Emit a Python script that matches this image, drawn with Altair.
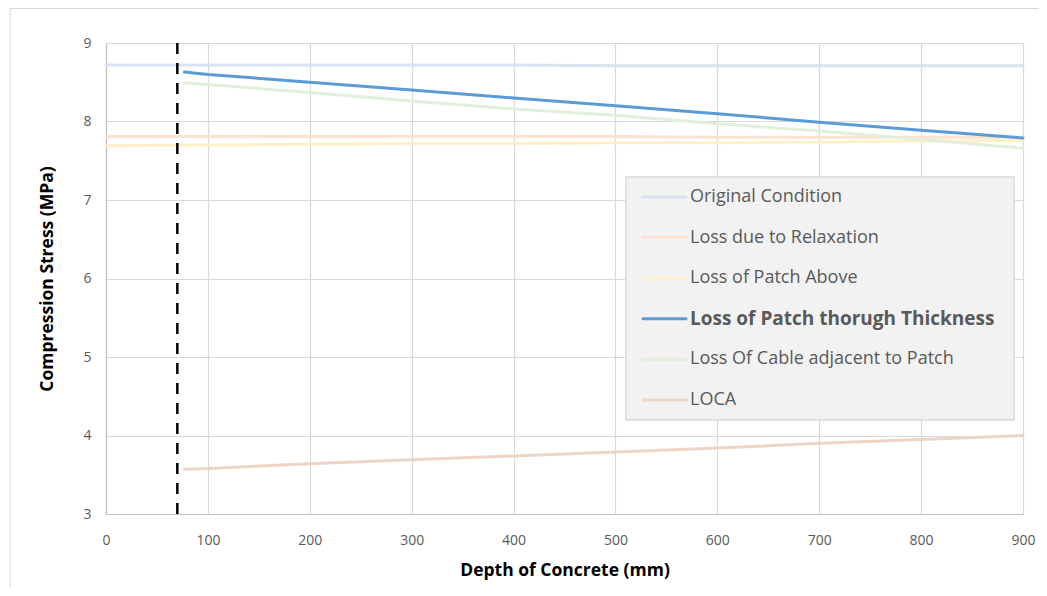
import altair as alt
import pandas as pd

# ---- data ----
series_names = [
    "Original Condition",
    "Loss due to Relaxation",
    "Loss of Patch Above",
    "Loss of Patch thorugh Thickness",
    "Loss Of Cable adjacent to Patch",
    "LOCA",
]
series_colors = ["#d9e2f3", "#fbe2d3", "#fff0c8", "#5b9bd5", "#e2efda", "#ecd5c6"]
series_widths = [3, 3, 3, 3.5, 3, 3]

depth_full = [0, 100, 200, 300, 400, 500, 600, 700, 800, 900]
depth_part = [77, 100, 200, 300, 400, 500, 600, 700, 800, 900]

original = [8.72, 8.72, 8.72, 8.72, 8.72, 8.71, 8.71, 8.71, 8.71, 8.71]
relaxation = [7.81, 7.81, 7.81, 7.81, 7.81, 7.81, 7.80, 7.80, 7.80, 7.80]
patch_above = [7.69, 7.70, 7.71, 7.72, 7.72, 7.73, 7.73, 7.74, 7.75, 7.76]
patch_thickness = [8.63, 8.60, 8.50, 8.40, 8.30, 8.20, 8.10, 7.99, 7.89, 7.79]
cable_adjacent = [8.49, 8.47, 8.37, 8.26, 8.16, 8.08, 7.97, 7.88, 7.77, 7.66]
loca = [3.57, 3.58, 3.64, 3.69, 3.74, 3.79, 3.84, 3.90, 3.95, 4.00]

marker_depth = [70]

x_ticks = [0, 100, 200, 300, 400, 500, 600, 700, 800, 900]
y_ticks = [3, 4, 5, 6, 7, 8, 9]

# ---- build long table ----
rows = []
for name, xs, ys in [
    (series_names[0], depth_full, original),
    (series_names[1], depth_full, relaxation),
    (series_names[2], depth_full, patch_above),
    (series_names[3], depth_part, patch_thickness),
    (series_names[4], depth_part, cable_adjacent),
    (series_names[5], depth_part, loca),
]:
    for x, y in zip(xs, ys):
        rows.append({"series": name, "depth": x, "stress": y, "order": series_names.index(name)})
df = pd.DataFrame(rows)
legend_df = pd.DataFrame({"series": series_names, "idx": list(range(len(series_names)))})

FONT = "Open Sans"
W, H = 917, 471

color_scale = alt.Scale(domain=series_names, range=series_colors)
width_scale = alt.Scale(domain=series_names, range=series_widths)

border = alt.Chart(alt.Data(values=[{}])).mark_rect(
    fillOpacity=0, stroke="#d9d9d9", strokeWidth=1
).encode(x=alt.value(-96), x2=alt.value(1100), y=alt.value(-34.5), y2=alt.value(700))

lines = alt.Chart(df).mark_line(strokeCap="round", strokeJoin="round").encode(
    x=alt.X("depth:Q", scale=alt.Scale(domain=[0, 900], nice=False),
            axis=alt.Axis(values=x_ticks, title="Depth of Concrete (mm)",
                          titleX=W / 2, titleY=56, titleBaseline="middle")),
    y=alt.Y("stress:Q", scale=alt.Scale(domain=[3, 9], nice=False, zero=False),
            axis=alt.Axis(values=y_ticks, title="Compression Stress (MPa)",
                          titleX=-59, titleY=H / 2, titleAngle=-90,
                          titleAlign="center", titleBaseline="middle")),
    color=alt.Color("series:N", scale=color_scale, legend=None),
    strokeWidth=alt.StrokeWidth("series:N", scale=width_scale, legend=None),
    detail="series:N",
    order="order:Q",
)

marker = alt.Chart(pd.DataFrame({"depth": marker_depth})).mark_rule(
    color="#000000", strokeWidth=2.5, strokeDash=[11, 9]
).encode(x="depth:Q")

legend_box = alt.Chart(alt.Data(values=[{}])).mark_rect(
    fill="#f2f2f2", stroke="#d9d9d9", strokeWidth=1.5
).encode(x=alt.value(520), x2=alt.value(908), y=alt.value(134), y2=alt.value(377))

legend_base = alt.Chart(legend_df).transform_calculate(ly="154 + datum.idx * 40.6")

legend_lines = legend_base.mark_rule(strokeCap="round").encode(
    x=alt.value(537), x2=alt.value(580),
    y=alt.Y("ly:Q", scale=None, axis=None),
    color=alt.Color("series:N", scale=color_scale, legend=None),
    strokeWidth=alt.StrokeWidth("series:N", scale=width_scale, legend=None),
)

legend_text = legend_base.transform_filter(
    alt.datum.series != series_names[3]
).mark_text(align="left", baseline="middle", font=FONT, fontSize=18, color="#595959").encode(
    x=alt.value(584), y=alt.Y("ly:Q", scale=None, axis=None), text="series:N"
)
legend_text_bold = legend_base.transform_filter(
    alt.datum.series == series_names[3]
).mark_text(align="left", baseline="middle", font=FONT, fontSize=19, fontWeight="bold",
            color="#595959").encode(
    x=alt.value(584), y=alt.Y("ly:Q", scale=None, axis=None), text="series:N"
)

chart = alt.layer(
    border, lines, marker, legend_box, legend_lines, legend_text, legend_text_bold
).properties(
    width=W, height=H,
    autosize=alt.AutoSizeParams(type="none"),
    padding={"left": 98, "top": 35, "right": 16, "bottom": 74},
).configure_view(strokeOpacity=0).configure_axis(
    grid=True, gridColor="#d9d9d9", gridWidth=1.2,
    domainColor="#bfbfbf", domainWidth=1.2,
    ticks=False, labelFlush=False,
    labelFont=FONT, labelFontSize=14, labelColor="#595959",
    titleFont=FONT, titleFontSize=17.5, titleFontWeight="bold", titleColor="#000000",
).configure_axisX(labelPadding=19).configure_axisY(labelPadding=15)

chart.save("out.html", embed_options={"renderer": "svg", "actions": False})
